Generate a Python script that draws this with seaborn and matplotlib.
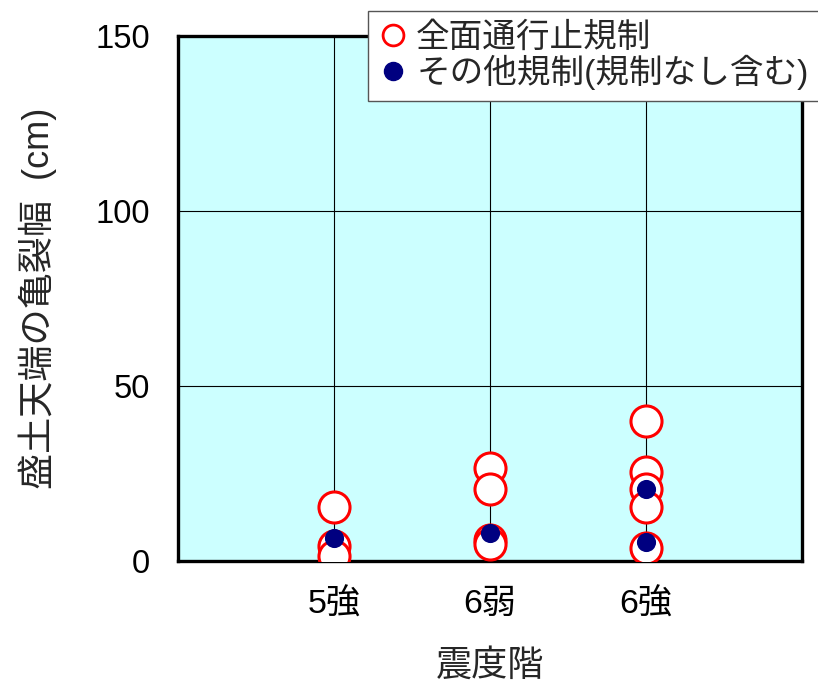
import matplotlib
matplotlib.use("Agg")
import matplotlib.pyplot as plt
import seaborn as sns
import pandas as pd
from matplotlib.lines import Line2D

# Seismic intensity classes on the x axis
categories = ["5強", "6弱", "6強"]

# Crack width at embankment crest (cm): full road closure
closure_cat = ["5強", "5強", "5強", "6弱", "6弱", "6弱", "6弱", "6強", "6強", "6強", "6強", "6強"]
closure_val = [15.5, 4.3, 1.5, 26.5, 20.5, 6.0, 5.0, 40.0, 25.5, 20.5, 15.5, 3.8]

# Crack width (cm): other restrictions (incl. no restriction)
other_cat = ["5強", "6弱", "6強", "6強"]
other_val = [6.5, 8.0, 20.5, 5.5]

y_ticks = [0, 50, 100, 150]

sns.set_theme(style="white")
plt.rcParams["font.family"] = ["Liberation Sans", "Noto Sans CJK JP"]

df_closure = pd.DataFrame({"震度階": pd.Categorical(closure_cat, categories=categories),
                           "亀裂幅": closure_val})
df_other = pd.DataFrame({"震度階": pd.Categorical(other_cat, categories=categories),
                         "亀裂幅": other_val})

fig = plt.figure(figsize=(8.18, 6.83), dpi=100)
ax = fig.add_axes([178 / 818, 1 - 561 / 683, (802 - 178) / 818, (561 - 36) / 683])
ax.set_facecolor("#ccffff")

ax.set_xticks(range(len(categories)))
sns.scatterplot(data=df_closure, x="震度階", y="亀裂幅", ax=ax, s=500,
                marker="o", facecolor="white", edgecolor="#ff0000", linewidth=2.2,
                zorder=3, legend=False)
sns.scatterplot(data=df_other, x="震度階", y="亀裂幅", ax=ax, s=190,
                marker="o", color="#000080", edgecolor="#000080", linewidth=0,
                zorder=4, legend=False)

ax.set_xlim(-1, len(categories))
ax.set_ylim(0, 150)
ax.set_yticks(y_ticks)
ax.set_xticks(range(len(categories)))
ax.set_xticklabels(categories)

ax.grid(True, color="black", linewidth=0.8)
ax.set_axisbelow(True)
for s in ax.spines.values():
    s.set_visible(True)
    s.set_color("black")
    s.set_linewidth(2.4)

ax.tick_params(axis="both", length=0, labelsize=23.5, colors="black")
ax.tick_params(axis="x", labelsize=24.5, pad=20)
ax.tick_params(axis="y", pad=20)

ax.set_xlabel("震度階", fontsize=26, labelpad=20)
ax.set_ylabel("盛土天端の亀裂幅  (cm)", fontsize=26, labelpad=28)

handles = [
    Line2D([], [], marker="o", linestyle="none", markersize=15,
           markerfacecolor="white", markeredgecolor="#ff0000", markeredgewidth=2.0),
    Line2D([], [], marker="o", linestyle="none", markersize=13,
           markerfacecolor="#000080", markeredgecolor="#000080"),
]
leg = fig.legend(handles, ["全面通行止規制", "その他規制(規制なし含む)"],
                 loc="upper left", bbox_to_anchor=(368 / 818, 1 - 11 / 683),
                 bbox_transform=fig.transFigure, borderaxespad=0, fontsize=24.2,
                 frameon=True, fancybox=False, edgecolor="#555555",
                 framealpha=1, labelspacing=0.02, handletextpad=0.3,
                 handlelength=0.8, borderpad=0.33)
leg.get_frame().set_linewidth(1.0)

fig.savefig("out.png", dpi=100)
